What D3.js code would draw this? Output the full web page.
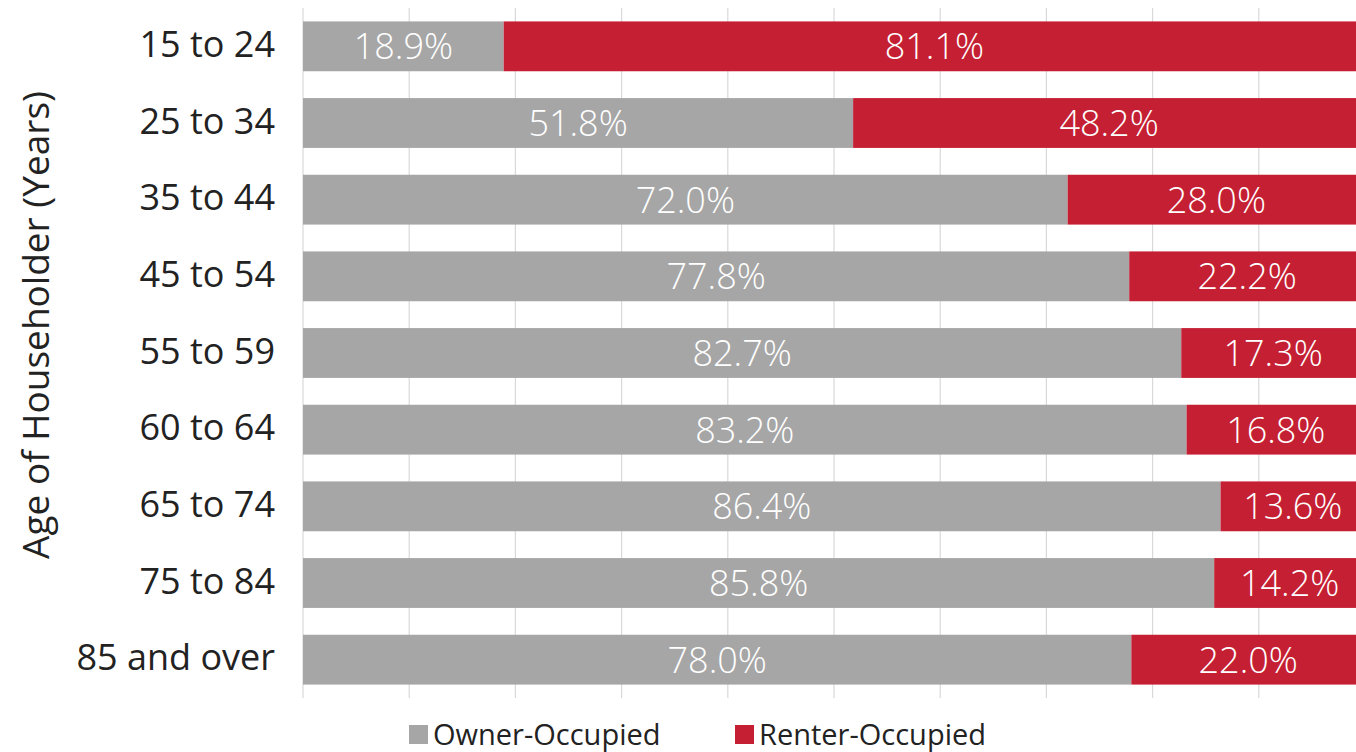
<!DOCTYPE html>
<html><head><meta charset="utf-8">
<script src="https://cdn.jsdelivr.net/npm/d3@7"></script>
<style>html,body{margin:0;padding:0;background:#fff;overflow:hidden}</style>
</head><body>
<svg id="chart" width="1356" height="752"></svg>
<script>
const categories = ["15 to 24","25 to 34","35 to 44","45 to 54","55 to 59","60 to 64","65 to 74","75 to 84","85 and over"];
const ownerValues = [18.9,51.8,72.0,77.8,82.7,83.2,86.4,85.8,78.0];
const renterValues = [81.1,48.2,28.0,22.2,17.3,16.8,13.6,14.2,22.0];
const seriesNames = ["Owner-Occupied","Renter-Occupied"];
const seriesColors = ["#a6a6a6","#c51f33"];
const xTicks = [0,10,20,30,40,50,60,70,80,90,100];
const yTitle = "Age of Householder (Years)";

const font = "'Open Sans', sans-serif";
const svg = d3.select("#chart");
const m = {left:303, right:1365, top:8, bottom:698};
const x = d3.scaleLinear().domain([0,100]).range([m.left,m.right]);
const y = d3.scaleBand().domain(categories).range([m.top,m.bottom]).paddingInner(0.35).paddingOuter(0.175);

// gridlines
svg.append("g").selectAll("line").data(xTicks).join("line")
  .attr("x1",d=>x(d)).attr("x2",d=>x(d)).attr("y1",m.top).attr("y2",m.bottom)
  .attr("stroke","#d9d9d9").attr("stroke-width",1.2);

const rows = categories.map((c,i)=>({cat:c, segs:[
  {s:0, x0:0, v:ownerValues[i]},
  {s:1, x0:ownerValues[i], v:renterValues[i]}
]}));

const g = svg.append("g");
rows.forEach(r=>{
  r.segs.forEach(sg=>{
    g.append("rect").attr("x",x(sg.x0)).attr("y",y(r.cat))
      .attr("width",x(sg.x0+sg.v)-x(sg.x0)).attr("height",y.bandwidth())
      .attr("fill",seriesColors[sg.s]);
    g.append("text").attr("x",(x(sg.x0)+x(sg.x0+sg.v))/2).attr("y",y(r.cat)+y.bandwidth()/2)
      .attr("dy","0.36em").attr("text-anchor","middle")
      .attr("font-family",font).attr("font-size",36).attr("font-weight",300).attr("fill","#fff")
      .text(sg.v.toFixed(1)+"%");
  });
});

// y axis labels
const yAxis = d3.axisLeft(y).tickSize(0).tickPadding(0);
const ya = svg.append("g").attr("transform",`translate(${m.left-28},0)`).call(yAxis);
ya.select(".domain").remove();
ya.selectAll("text").attr("font-family",font).attr("font-size",36).attr("fill","#222").attr("dy","0.3em");

// y title
svg.append("text").attr("transform","translate(49,325) rotate(-90)")
  .attr("text-anchor","middle").attr("font-family",font).attr("font-size",37).attr("fill","#222")
  .text(yTitle);

// legend
const legX = [409,735];
seriesNames.forEach((n,i)=>{
  svg.append("rect").attr("x",legX[i]).attr("y",725).attr("width",19).attr("height",19).attr("fill",seriesColors[i]);
  svg.append("text").attr("x",legX[i]+24).attr("y",735).attr("dy","0.36em")
    .attr("font-family",font).attr("font-size",29).attr("fill","#222").text(n);
});
</script>
</body></html>
